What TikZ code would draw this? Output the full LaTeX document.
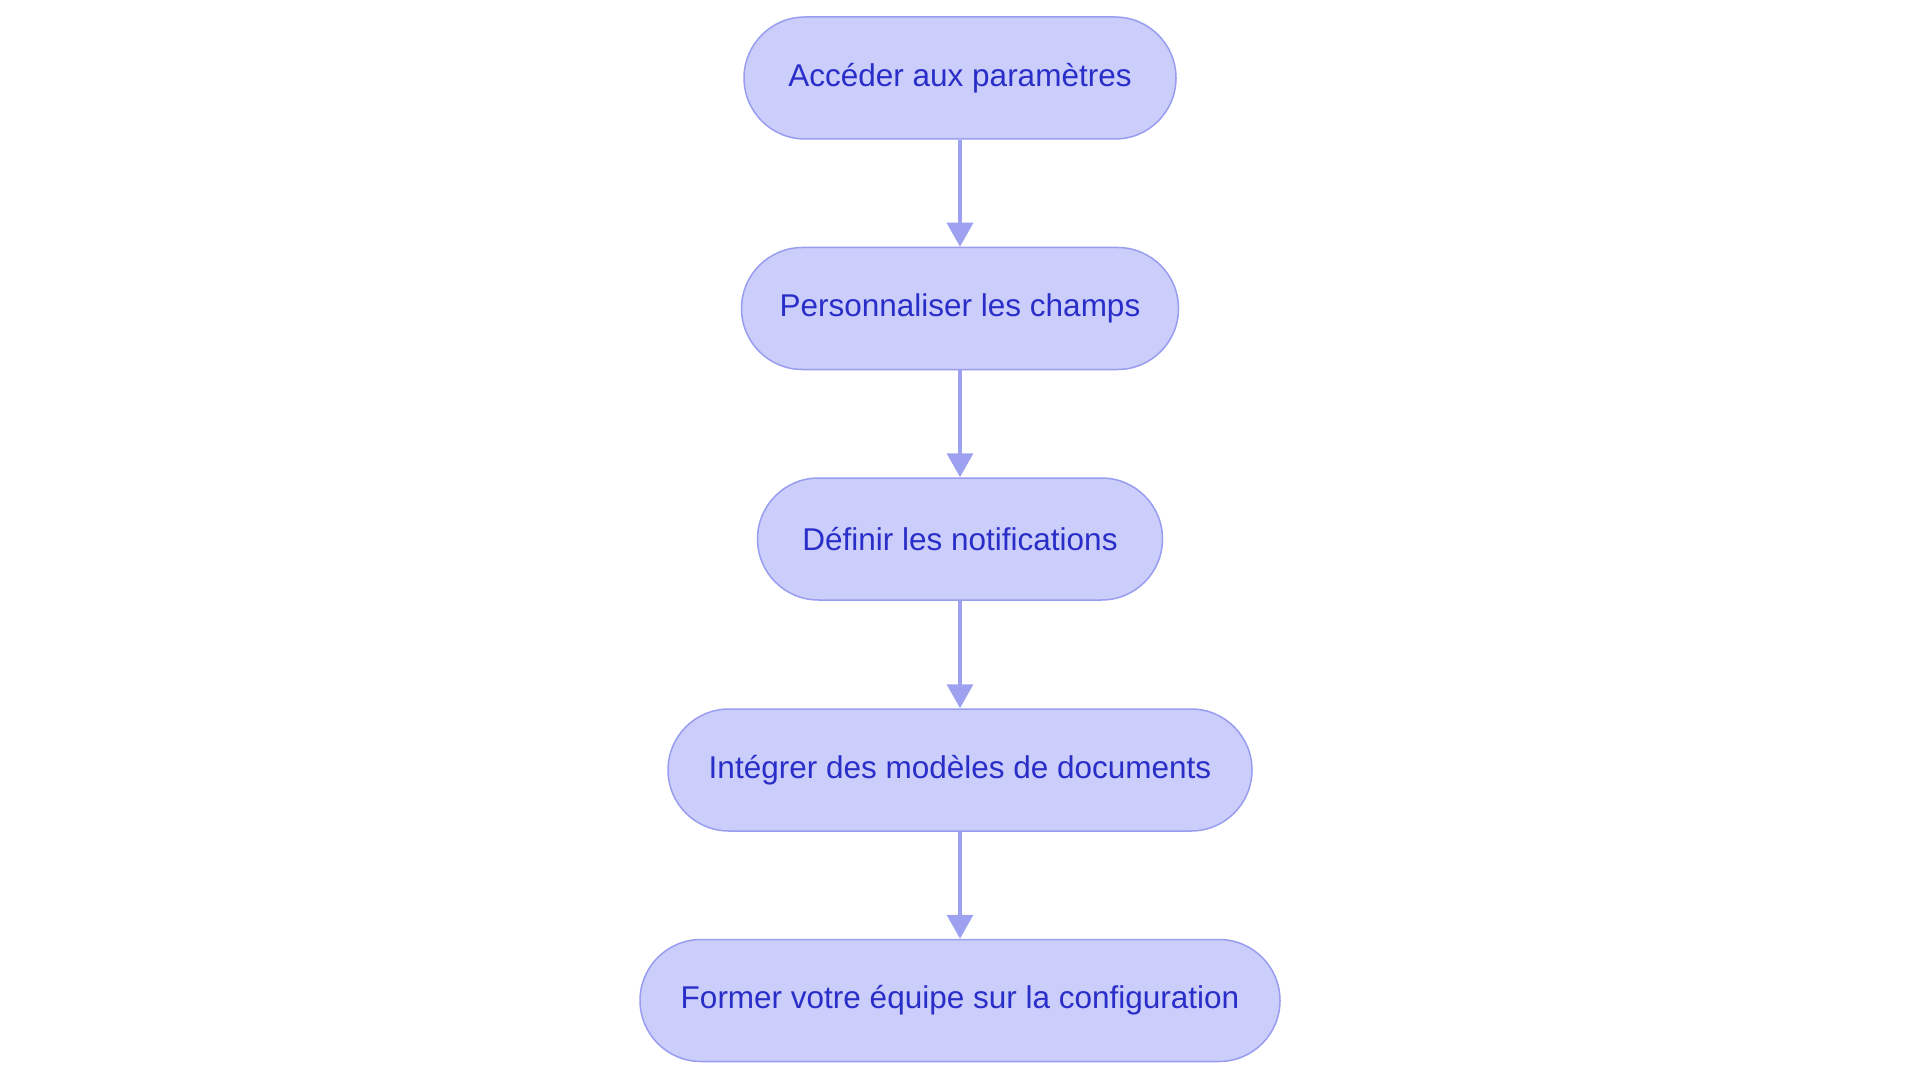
\documentclass[tikz,border=0pt]{standalone}
\usepackage{fontspec}
\setmainfont{Liberation Sans}
\usetikzlibrary{arrows.meta}
\definecolor{boxfill}{RGB}{203,205,251}
\definecolor{boxline}{RGB}{152,157,240}
\definecolor{boxtext}{RGB}{42,46,200}
\definecolor{arrowc}{RGB}{157,161,240}
\tikzset{
  stepbox/.style={draw=boxline, fill=boxfill, line width=1.5pt, rounded corners=61pt,
    minimum height=122pt, inner sep=0pt, text=boxtext,
    font=\fontsize{31.5}{38}\selectfont},
  flow/.style={draw=arrowc, line width=3.5pt, -{Triangle[width=26pt,length=24pt]}}
}
\begin{document}
\begin{tikzpicture}[x=1pt,y=-1pt]
\useasboundingbox (0,0) rectangle (1920,1083);
\node[stepbox, minimum width=432pt] (a) at (960,78) {Accéder aux paramètres};
\node[stepbox, minimum width=437pt] (b) at (960,308.5) {Personnaliser les champs};
\node[stepbox, minimum width=405pt] (c) at (960,539) {Définir les notifications};
\node[stepbox, minimum width=584pt] (d) at (960,770) {Intégrer des modèles de documents};
\node[stepbox, minimum width=640pt] (e) at (960,1000.5) {Former votre équipe sur la configuration};
\draw[flow] (a) -- (b);
\draw[flow] (b) -- (c);
\draw[flow] (c) -- (d);
\draw[flow] (d) -- (e);
\end{tikzpicture}
\end{document}
